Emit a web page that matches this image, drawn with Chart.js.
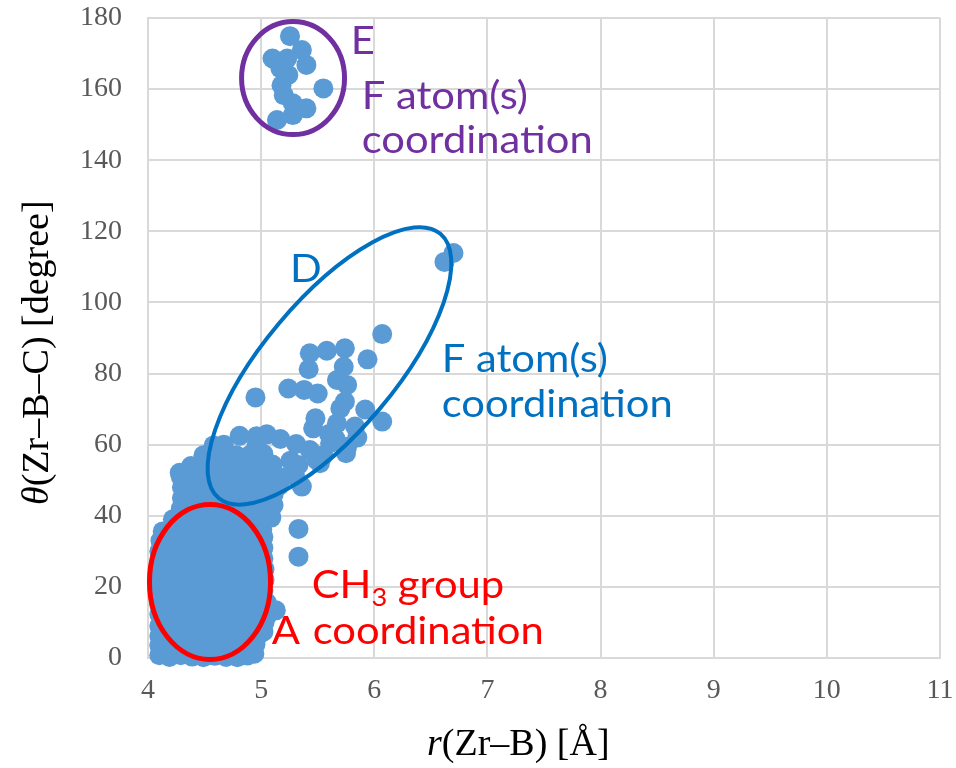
<!DOCTYPE html>
<html>
<head>
<meta charset="utf-8">
<script src="https://cdn.jsdelivr.net/npm/chart.js@4.4.0/dist/chart.umd.min.js"></script>
<style>
  html, body { margin: 0; padding: 0; background: #fff; }
  canvas { display: block; }
</style>
</head>
<body>
<canvas id="chart" width="956" height="768"></canvas>
<script>
// axis ranges and tick steps
const xRange = [4, 11], xStep = 1;
const yRange = [0, 180], yStep = 20;

// A: CH3 group coordination (dense cluster)
const groupA = [
  [4.1,0.8],[4.19,0.3],[4.29,0.8],[4.39,0.4],[4.49,0.2],[4.59,0.6],[4.69,0.3],[4.79,0.2],[4.88,0.7],[4.94,1.2],
  [4.1,3.5],[4.19,3],[4.29,3.4],[4.39,2.8],[4.49,3.2],[4.59,3.6],[4.69,2.9],[4.79,3.3],[4.89,3.1],[4.95,3.8],
  [4.1,6.2],[4.18,6.5],[4.28,5.9],[4.38,6.3],[4.48,6],[4.58,6.4],[4.68,6.1],[4.78,5.8],[4.88,6.6],[4.97,6.2],[5.02,7.4],
  [4.1,9],[4.19,9.4],[4.29,8.8],[4.39,9.2],[4.49,9.6],[4.59,9],[4.69,8.9],[4.79,9.3],[4.89,9.1],[4.98,8.7],[5.03,10],
  [4.1,12.2],[4.19,11.9],[4.29,12.4],[4.39,12],[4.49,12.3],[4.59,11.8],[4.69,12.1],[4.79,12.5],[4.89,12],[4.98,11.8],[5.06,12.2],[5.13,13.4],
  [4.1,15],[4.19,15.4],[4.29,14.8],[4.39,15.2],[4.49,15],[4.59,15.5],[4.69,14.9],[4.79,15.1],[4.89,15.3],[4.98,14.7],[5.05,15.6],
  [4.1,18.1],[4.19,17.8],[4.29,18.3],[4.39,18],[4.49,17.7],[4.59,18.2],[4.69,18],[4.79,18.4],[4.89,17.9],[4.98,18.2],[5.02,19],
  [4.1,21],[4.18,21.3],[4.28,20.8],[4.38,21.2],[4.48,21],[4.58,20.7],[4.68,21.4],[4.78,21],[4.88,20.9],[4.97,21.2],[5.03,22],
  [4.1,24],[4.19,23.8],[4.29,24.2],[4.39,24],[4.49,24.4],[4.59,23.7],[4.69,24.1],[4.79,24.3],[4.89,23.9],[4.98,24],[5.03,25],
  [4.1,27.2],[4.19,27],[4.29,26.8],[4.39,27.3],[4.49,27],[4.59,26.9],[4.69,27.4],[4.79,27.1],[4.89,26.8],[4.97,27.2],[5.02,28],
  [4.1,30],[4.19,30.3],[4.29,29.8],[4.39,30.1],[4.49,30.4],[4.59,29.9],[4.69,30.2],[4.79,30],[4.89,29.8],[4.97,30.3],[5.02,31],
  [4.11,33],[4.2,33.3],[4.3,32.8],[4.4,33.1],[4.5,33.2],[4.6,32.9],[4.7,33.4],[4.8,33],[4.9,33.1],[4.98,32.8],[5.02,34],
  [4.13,35.6],[4.22,36.2],[4.32,35.9],[4.42,36],[4.52,36.3],[4.62,35.8],[4.72,36.1],[4.82,36],[4.92,35.7],[5.01,36.2],
  [4.22,39],[4.3,39.2],[4.4,38.8],[4.5,39.1],[4.6,39.3],[4.7,38.9],[4.8,39],[4.9,39.2],[5.0,38.8],[5.09,39.5],
  [4.29,42],[4.38,42.2],[4.48,41.8],[4.58,42.1],[4.68,42.3],[4.78,41.9],[4.88,42],[4.98,42.2],[5.07,41.8],[5.11,43],
  [4.3,45],[4.39,45.3],[4.49,44.8],[4.59,45.1],[4.69,45.2],[4.79,44.9],[4.89,45.3],[4.99,45],[5.08,44.8],[5.11,46],
  [4.3,48],[4.39,47.8],[4.49,48.2],[4.59,48],[4.69,48.3],[4.79,47.9],[4.89,48.1],[4.99,48],[5.08,47.8],[5.16,48.5],
  [4.29,51],[4.28,52.1],[4.38,51.2],[4.48,50.8],[4.58,51.1],[4.68,51.3],[4.78,50.9],[4.88,51],[4.98,51.2],[5.08,51.9],[5.18,50.8],[5.3,51],
  [4.38,54],[4.47,54.2],[4.57,53.8],[4.67,54.1],[4.78,53.8],[4.88,54.2],[4.98,53.9],[5.1,54.4],[5.26,55.5],[5.33,54.3],
  [4.49,57],[4.58,57.2],[4.68,56.8],[4.78,57],[4.9,57.1],[5.02,57.4],
  [4.58,59.8],[4.67,60],[4.96,60.1],[5.17,61.6],[5.31,60.2],
  [4.81,62.5],[4.96,62.4],[5.05,62.9],
  [5.33,36.3],[5.33,28.5]
];

// D: F atom(s) coordination
const groupD = [
  [6.62,111.4],[6.70,113.9],[6.07,91.1],
  [5.43,85.7],[5.58,86.4],[5.74,87.1],[5.94,84.0],[5.42,81.2],[5.73,81.9],
  [5.67,78.2],[5.76,76.8],[5.24,75.8],[5.38,75.4],[5.50,74.4],[4.95,73.3],
  [5.74,72.1],[5.70,70.2],[5.92,69.9],[6.07,66.5],[5.48,67.4],[5.67,66],
  [5.46,64.6],[5.83,65.1],[5.6,63],[5.85,62],[5.66,61.5],[5.76,59.4],[5.61,60.4],
  [5.75,57.6],[5.55,57],[5.43,58.5],[5.49,55.7],[5.52,54.8],[5.36,48.2]
];

// E: F atom(s) coordination (high angle)
const groupE = [
  [5.255,174.9],[5.36,171],[5.10,168.6],[5.23,168.6],[5.40,166.8],[5.17,165.8],[5.24,164],
  [5.18,161.1],[5.55,160.2],[5.20,158.3],[5.28,156],[5.40,154.6],[5.28,152.7],[5.14,151.3]
];

const pointColor = '#5B9BD5';
const red = '#FF0000', blue = '#0070C0', purple = '#7030A0';

// ellipses (data units)
const rings = [
  { color: red, width: 5, cx: 4.548, cy: 21.4, rx: 0.535, ry: 21.8 },
  { color: purple, width: 5, cx: 5.282, cy: 163.1, rx: 0.455, ry: 15.9 },
  { color: blue, width: 4, tip1: [6.584, 119.3], tip2: [4.624, 45.0], ratio: 0.383 }
];

// labels: left x / baseline y in data units
const notes = [
  { color: purple, x: 5.792, y: 169.8, parts: [{ t: 'E' }] },
  { color: purple, x: 5.889, y: 154.3, parts: [{ t: 'F atom(s)' }] },
  { color: purple, x: 5.889, y: 142.0, parts: [{ t: 'coordination' }] },
  { color: blue, x: 5.255, y: 105.8, parts: [{ t: 'D' }] },
  { color: blue, x: 6.596, y: 80.5, parts: [{ t: 'F atom(s)' }] },
  { color: blue, x: 6.596, y: 67.9, parts: [{ t: 'coordination' }] },
  { color: red, x: 5.447, y: 17.0, parts: [{ t: 'CH' }, { t: '3', sub: true }, { t: ' group' }] },
  { color: red, x: 5.093, y: 3.9, parts: [{ t: 'A' }] },
  { color: red, x: 5.456, y: 3.85, parts: [{ t: 'coordination' }] }
];

const toXY = arr => arr.map(([x, y]) => ({ x, y }));

function fontOf(p, size, family) {
  const s = p.sub ? size * 0.65 : size;
  return (p.italic ? 'italic ' : '') + s.toFixed(1) + 'px ' + family;
}

// draws text runs one after another; sx squeezes the glyphs horizontally
function drawParts(ctx, parts, x, y, size, family, sx = 1) {
  ctx.save();
  ctx.translate(x, y);
  ctx.scale(sx, 1);
  let cx = 0;
  parts.forEach(p => {
    ctx.font = fontOf(p, size, family);
    ctx.fillText(p.t, cx, p.sub ? size * 0.22 : 0);
    cx += ctx.measureText(p.t).width;
  });
  ctx.restore();
}

const overlay = {
  id: 'overlay',
  afterDatasetsDraw(chart) {
    const { ctx } = chart;
    const xs = chart.scales.x, ys = chart.scales.y;
    ctx.save();
    rings.forEach(r => {
      ctx.beginPath();
      if (r.tip1) {
        const x1 = xs.getPixelForValue(r.tip1[0]), y1 = ys.getPixelForValue(r.tip1[1]);
        const x2 = xs.getPixelForValue(r.tip2[0]), y2 = ys.getPixelForValue(r.tip2[1]);
        const a = Math.hypot(x1 - x2, y1 - y2) / 2;
        ctx.ellipse((x1 + x2) / 2, (y1 + y2) / 2, a, a * r.ratio, Math.atan2(y1 - y2, x1 - x2), 0, Math.PI * 2);
      } else {
        const cx = xs.getPixelForValue(r.cx), cy = ys.getPixelForValue(r.cy);
        const rx = xs.getPixelForValue(r.cx + r.rx) - cx;
        const ry = cy - ys.getPixelForValue(r.cy + r.ry);
        ctx.ellipse(cx, cy, rx, ry, 0, 0, Math.PI * 2);
      }
      ctx.strokeStyle = r.color;
      ctx.lineWidth = r.width;
      ctx.stroke();
    });

    // label font: cap height ~28px, "coordination" ~231px wide as in the original
    ctx.font = '100px Lato';
    const cap = ctx.measureText('F').actualBoundingBoxAscent || 72;
    const size = 100 * 28 / cap;
    ctx.font = size.toFixed(1) + 'px Lato';
    const sx = 231 / ctx.measureText('coordination').width;
    ctx.textBaseline = 'alphabetic';
    ctx.textAlign = 'left';
    notes.forEach(n => {
      ctx.fillStyle = n.color;
      drawParts(ctx, n.parts, xs.getPixelForValue(n.x), ys.getPixelForValue(n.y), size, 'Lato', sx);
    });
    ctx.restore();
  },
  afterDraw(chart) {
    const { ctx } = chart;
    const serif = '"Liberation Serif", "Times New Roman", serif';
    ctx.save();
    ctx.fillStyle = '#000';
    ctx.textBaseline = 'alphabetic';
    ctx.textAlign = 'left';
    drawParts(ctx, [{ t: 'r', italic: true }, { t: '(Zr–B) [Å]' }], 427, 755, 38, serif);
    ctx.translate(48, 505);
    ctx.rotate(-Math.PI / 2);
    drawParts(ctx, [{ t: 'θ', italic: true }, { t: '(Zr–B–C) [degree]' }], 0, 0, 38, serif);
    ctx.restore();
  }
};

const dotStyle = {
  backgroundColor: pointColor,
  borderColor: pointColor,
  borderWidth: 0,
  pointRadius: 10,
  pointHoverRadius: 10,
  clip: false
};

const tickFont = { family: '"Liberation Serif", "Times New Roman", serif', size: 28 };
const gridStyle = { color: '#D9D9D9', lineWidth: 2, drawTicks: false };

new Chart(document.getElementById('chart').getContext('2d'), {
  type: 'scatter',
  data: {
    datasets: [
      Object.assign({ label: 'A', data: toXY(groupA) }, dotStyle),
      Object.assign({ label: 'D', data: toXY(groupD) }, dotStyle),
      Object.assign({ label: 'E', data: toXY(groupE) }, dotStyle)
    ]
  },
  options: {
    responsive: false,
    animation: false,
    events: [],
    layout: { padding: { top: 18, right: 16, left: 0, bottom: 0 } },
    plugins: { legend: { display: false }, tooltip: { enabled: false } },
    scales: {
      x: {
        type: 'linear',
        min: xRange[0],
        max: xRange[1],
        grid: gridStyle,
        border: { display: true, color: '#D9D9D9', width: 2 },
        ticks: { stepSize: xStep, font: tickFont, color: '#595959', padding: 16, maxRotation: 0, autoSkip: false },
        afterFit: s => { s.height = 110; s.paddingLeft = 0; s.paddingRight = 0; }
      },
      y: {
        min: yRange[0],
        max: yRange[1],
        grid: gridStyle,
        border: { display: true, color: '#D9D9D9', width: 2 },
        ticks: { stepSize: yStep, font: tickFont, color: '#595959', padding: 26, autoSkip: false },
        afterFit: s => { s.width = 148; s.paddingTop = 0; s.paddingBottom = 0; }
      }
    }
  },
  plugins: [overlay]
});
</script>
</body>
</html>
